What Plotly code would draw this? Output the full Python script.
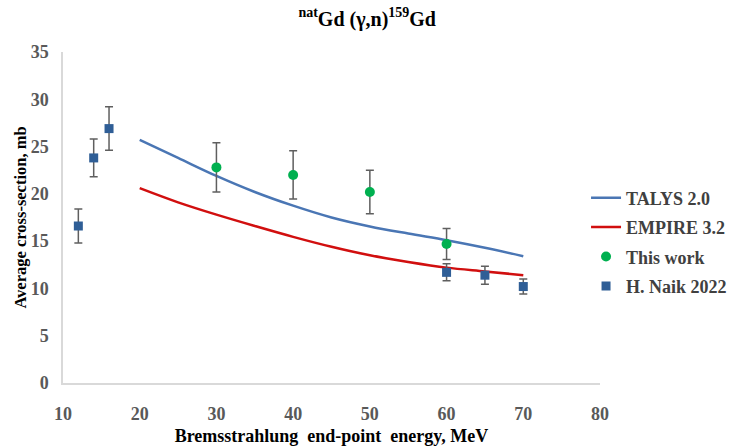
import plotly.graph_objects as go

# Model curves (average cross-section vs. bremsstrahlung end-point energy)
model_energy = [20, 25, 30, 35, 40, 45, 50, 55, 60, 65, 70]
talys = [25.7, 23.8, 21.9, 20.2, 18.75, 17.5, 16.55, 15.8, 15.1, 14.3, 13.4]
empire = [20.6, 19.1, 17.8, 16.6, 15.45, 14.4, 13.5, 12.8, 12.2, 11.8, 11.4]

# Measured values, this work
this_energy = [30, 40, 50, 60]
this_xs = [22.8, 22.0, 20.2, 14.7]
this_err = [2.6, 2.55, 2.3, 1.65]

# H. Naik 2022
naik_energy = [12, 14, 16, 60, 65, 70]
naik_xs = [16.6, 23.8, 26.9, 11.7, 11.4, 10.2]
naik_err = [1.8, 2.0, 2.3, 0.9, 0.95, 0.8]

x_ticks = [10, 20, 30, 40, 50, 60, 70, 80]
y_ticks = [0, 5, 10, 15, 20, 25, 30, 35]

SERIF = "Liberation Serif"
ERR_COLOR = "#5f5f5f"
NBSP2 = "\u00a0\u00a0"

fig = go.Figure()

fig.add_trace(go.Scatter(
    x=model_energy, y=talys, name="TALYS 2.0", mode="lines", legendgroup="a",
    line=dict(color="#4a76b4", width=2.5, shape="spline", smoothing=1.0),
))
fig.add_trace(go.Scatter(
    x=model_energy, y=empire, name="EMPIRE 3.2", mode="lines", legendgroup="b",
    line=dict(color="#d10f0f", width=2.5, shape="spline", smoothing=1.0),
))
fig.add_trace(go.Scatter(
    x=this_energy, y=this_xs, name="This work", mode="markers", legendgroup="c",
    marker=dict(symbol="circle", size=10, color="#00b050"),
    error_y=dict(type="data", array=this_err, visible=True,
                 color=ERR_COLOR, thickness=1.5, width=4),
))
fig.add_trace(go.Scatter(
    x=naik_energy, y=naik_xs, name="H. Naik 2022", mode="markers", legendgroup="d",
    marker=dict(symbol="square", size=9, color="#2f5e96"),
    error_y=dict(type="data", array=naik_err, visible=True,
                 color=ERR_COLOR, thickness=1.5, width=4),
))

tick_font = dict(family=SERIF, size=18, color="#595959", weight="bold")

fig.update_layout(
    width=730, height=446,
    margin=dict(l=63, r=130, t=52, b=63, autoexpand=False),
    paper_bgcolor="white", plot_bgcolor="white",
    title=dict(
        text="<sup>nat</sup>Gd (γ,n)<sup>159</sup>Gd",
        x=0.503, xanchor="center", y=0.958, yanchor="middle",
        font=dict(family=SERIF, size=20, color="#000000", weight="bold"),
    ),
    xaxis=dict(
        range=[10, 80], tickvals=x_ticks, showgrid=False, zeroline=False,
        showline=True, linecolor="#d9d9d9", linewidth=1.5,
        ticks="outside", ticklen=14, tickcolor="rgba(0,0,0,0)",
        tickfont=tick_font,
        title=dict(text=f"Bremsstrahlung{NBSP2}end-point{NBSP2}energy, MeV",
                   font=dict(family=SERIF, size=18, color="#000000", weight="bold"),
                   standoff=7),
    ),
    yaxis=dict(
        range=[0, 35], tickvals=y_ticks, showgrid=False, zeroline=False,
        showline=True, linecolor="#d9d9d9", linewidth=1.5,
        ticks="outside", ticklen=9, tickcolor="rgba(0,0,0,0)",
        tickfont=tick_font,
        title=dict(text="Average cross-section, mb",
                   font=dict(family=SERIF, size=16.5, color="#000000", weight="bold"),
                   standoff=0),
    ),
    legend=dict(
        x=0.974, xanchor="left", y=0.426, yanchor="middle",
        font=dict(family=SERIF, size=18, color="#404040", weight="bold"),
        bgcolor="rgba(0,0,0,0)", traceorder="grouped", tracegroupgap=3,
    ),
    showlegend=True,
)

fig.write_html("out.html")
